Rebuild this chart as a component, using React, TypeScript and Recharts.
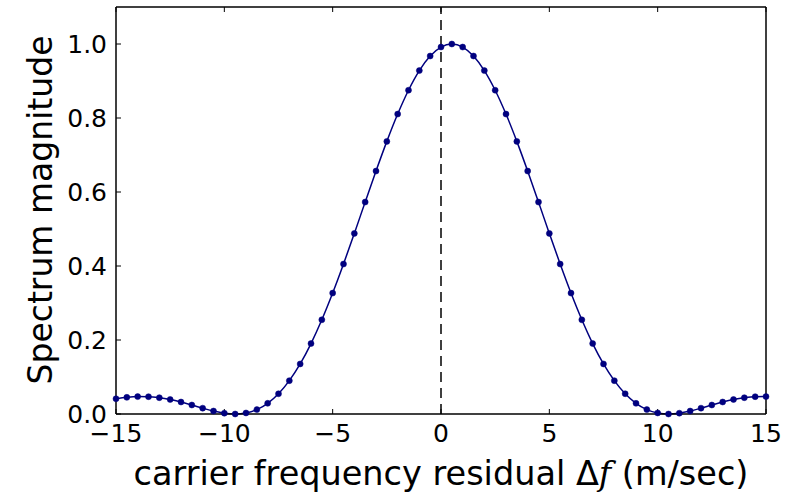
import React from 'react';
import { LineChart, Line, XAxis, YAxis, ReferenceLine } from 'recharts';

// residual offsets (m/sec), sampled every 0.5
const freqResidual = [
  -15, -14.5, -14, -13.5, -13, -12.5, -12, -11.5, -11, -10.5,
  -10, -9.5, -9, -8.5, -8, -7.5, -7, -6.5, -6, -5.5,
  -5, -4.5, -4, -3.5, -3, -2.5, -2, -1.5, -1, -0.5,
  0, 0.5, 1, 1.5, 2, 2.5, 3, 3.5, 4, 4.5,
  5, 5.5, 6, 6.5, 7, 7.5, 8, 8.5, 9, 9.5,
  10, 10.5, 11, 11.5, 12, 12.5, 13, 13.5, 14, 14.5, 15,
];

// spectrum magnitude
const magnitude = [
  0.0411, 0.045, 0.047, 0.0468, 0.0441, 0.0392, 0.0324, 0.0243, 0.0158, 0.008,
  0.0022, 0, 0.0028, 0.0119, 0.0289, 0.0547, 0.0901, 0.1353, 0.1904, 0.2546,
  0.3268, 0.4053, 0.4881, 0.5728, 0.6566, 0.7368, 0.8106, 0.8751, 0.9281, 0.9675,
  0.9918, 1.0, 0.9918, 0.9675, 0.9281, 0.8751, 0.8106, 0.7368, 0.6566, 0.5728,
  0.4881, 0.4053, 0.3268, 0.2546, 0.1904, 0.1353, 0.0901, 0.0547, 0.0289, 0.0119,
  0.0028, 0, 0.0022, 0.008, 0.0158, 0.0243, 0.0324, 0.0392, 0.0441, 0.0468, 0.047,
];

const xTicks = [-15, -10, -5, 0, 5, 10, 15];
const yTicks = [0, 0.2, 0.4, 0.6, 0.8, 1.0];

const data = freqResidual.map((f, i) => ({ f, mag: magnitude[i] }));

const FONT = '"DejaVu Sans", sans-serif';
const navy = '#00007f';

const fmtX = (v: number) => (v < 0 ? '\u2212' + Math.abs(v) : String(v));
const fmtY = (v: number) => v.toFixed(1);
const noLabel = () => '';

export default function App() {
  return (
    <div style={{ position: 'absolute', left: 0, top: 0, width: 788, height: 496, background: '#fff' }}>
      <LineChart width={788} height={496} data={data} margin={{ top: 6, right: 21, left: 0, bottom: 0 }}>
        <XAxis
          xAxisId="b"
          dataKey="f"
          type="number"
          domain={[-15, 15]}
          ticks={xTicks}
          tickFormatter={fmtX}
          height={82}
          tickSize={-5}
          tickMargin={15}
          axisLine={{ stroke: '#000', strokeWidth: 1.5 }}
          tickLine={{ stroke: '#000' }}
          tick={{ fill: '#000', fontSize: 25, fontFamily: FONT }}
        />
        <XAxis
          xAxisId="t"
          orientation="top"
          dataKey="f"
          type="number"
          domain={[-15, 15]}
          ticks={xTicks}
          tickFormatter={noLabel}
          height={1}
          tickSize={-5}
          axisLine={{ stroke: '#000', strokeWidth: 1.5 }}
          tickLine={{ stroke: '#000' }}
          tick={{ fill: 'none', fontSize: 1 }}
        />
        <YAxis
          yAxisId="l"
          type="number"
          domain={[0, 1.1]}
          ticks={yTicks}
          tickFormatter={fmtY}
          width={116}
          tickSize={-5}
          tickMargin={14}
          axisLine={{ stroke: '#000', strokeWidth: 1.5 }}
          tickLine={{ stroke: '#000' }}
          tick={{ fill: '#000', fontSize: 25, fontFamily: FONT }}
        />
        <YAxis
          yAxisId="r"
          orientation="right"
          type="number"
          domain={[0, 1.1]}
          ticks={yTicks}
          tickFormatter={noLabel}
          width={1}
          tickSize={-5}
          axisLine={{ stroke: '#000', strokeWidth: 1.5 }}
          tickLine={{ stroke: '#000' }}
          tick={{ fill: 'none', fontSize: 1 }}
        />
        <ReferenceLine xAxisId="b" yAxisId="l" x={0} stroke="#000" strokeWidth={1.5} strokeDasharray="10 6" />
        <Line
          xAxisId="b"
          yAxisId="l"
          type="monotone"
          dataKey="mag"
          stroke={navy}
          strokeWidth={1.5}
          dot={{ r: 3, fill: navy, stroke: navy, strokeWidth: 0.5 }}
          activeDot={false}
          isAnimationActive={false}
        />
      </LineChart>
      <svg width={788} height={496} style={{ position: 'absolute', left: 0, top: 0, pointerEvents: 'none' }}>
        <text x={441} y={485} textAnchor="middle" fontFamily={FONT} fontSize={33.5} fill="#000">
          carrier frequency residual Δ
          <tspan fontFamily='"DejaVu Serif", serif' fontStyle="italic">f</tspan>
          {' (m/sec)'}
        </text>
        <text
          x={52}
          y={210}
          transform="rotate(-90 52 210)"
          textAnchor="middle"
          fontFamily={FONT}
          fontSize={33}
          fill="#000"
        >
          Spectrum magnitude
        </text>
      </svg>
    </div>
  );
}
